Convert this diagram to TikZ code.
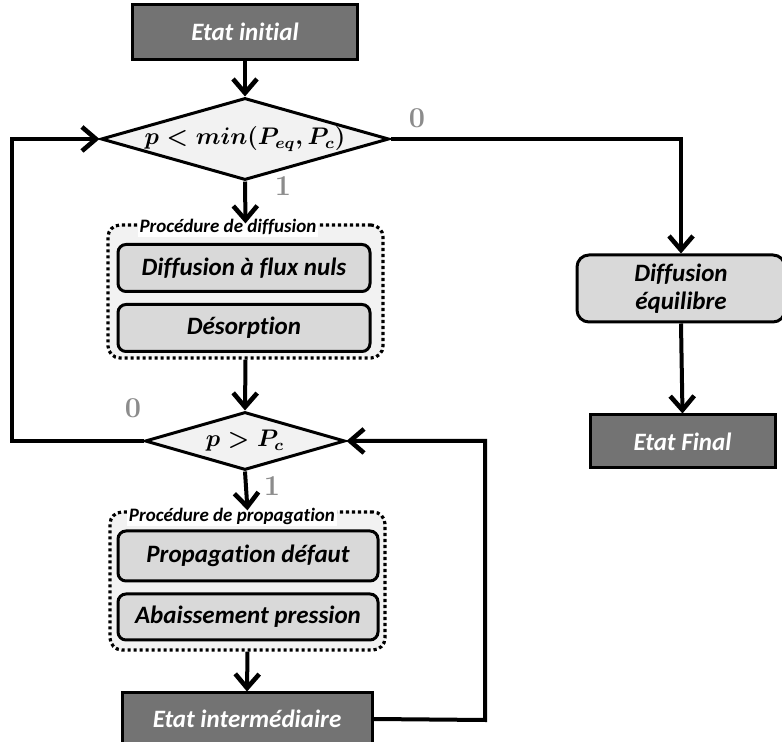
\documentclass[tikz,border=0pt]{standalone}
\usepackage[no-math]{fontspec}
\setmainfont{Carlito}[Ligatures=NoCommon]
\usetikzlibrary{shapes.geometric,arrows.meta}
\begin{document}
\begin{tikzpicture}[x=0.5pt, y=-0.5pt,
    fleche/.style={line width=2pt, -{Straight Barb[length=7pt,width=12pt,line width=2.3pt]}},
    etat/.style={draw, line width=1.5pt, fill=black!55, text=white, font=\fontsize{12.5}{14}\bfseries\itshape, inner sep=0pt},
    test/.style={draw, diamond, line width=1.5pt, fill=black!5, inner sep=0pt, font=\fontsize{12}{14}\boldmath},
    tache/.style={draw, line width=1.5pt, rounded corners=4pt, fill=black!15, font=\fontsize{12.5}{14}\bfseries\itshape, inner sep=0pt},
    groupe/.style={draw, line width=1.6pt, dash pattern=on 1.6pt off 1.4pt, rounded corners=6pt, fill=black!5},
    titre/.style={fill=white, inner sep=1pt, font=\fontsize{9.5}{10}\bfseries\itshape},
    choix/.style={text=black!45, font=\fontsize{14}{14}}]
    \useasboundingbox (0,0) rectangle (782,742);
    % Etats et tests
    \node[etat, minimum width=112.5pt, minimum height=27.5pt] (init) at (245,32) {Etat initial};
    \node[test, aspect=3.5, minimum width=144pt, minimum height=41pt] (test1) at (245,139) {$p<min(P_{eq},P_c)$};
    \node[test, aspect=3.45, minimum width=100pt, minimum height=29pt] (test2) at (245,441) {$p>P_c$};
    % Procedure de diffusion
    \node[groupe, minimum width=137.5pt, minimum height=66.5pt] (grpdiff) at (245.5,291.5) {};
    \node[titre] (titrediff) at (228,227) {Procédure de diffusion};
    \node[tache, minimum width=126pt, minimum height=23.5pt] (flux) at (244,268) {Diffusion à flux nuls};
    \node[tache, minimum width=126pt, minimum height=23.5pt] (desorp) at (244,328) {Désorption};
    % Procedure de propagation
    \node[groupe, minimum width=137.5pt, minimum height=69pt] (grpprop) at (247.5,581) {};
    \node[titre] (titreprop) at (232,516) {Procédure de propagation};
    \node[tache, minimum width=130pt, minimum height=25pt] (defaut) at (248,556) {Propagation défaut};
    \node[tache, minimum width=130pt, minimum height=23pt] (pression) at (248,617) {Abaissement pression};
    \node[etat, minimum width=125pt, minimum height=26pt] (inter) at (247,719) {Etat intermédiaire};
    % Branche de droite
    \node[tache, align=center, rounded corners=6pt, minimum width=104pt, minimum height=33.5pt] (equil) at (681,288.5) {Diffusion\\équilibre};
    \node[etat, minimum width=92.5pt, minimum height=26.5pt] (final) at (682.5,441.5) {Etat Final};
    \coordinate (gauche) at (12,441);
    \coordinate (droite) at (485,720);
    % Connexions
    \draw[fleche] (init) -- (test1);
    \draw[fleche] (test1.south) -- (grpdiff.north);
    \draw[fleche] (grpdiff.south) -- (test2.north);
    \draw[fleche] (test2.south) -- (grpprop.north);
    \draw[fleche] (grpprop.south) -- (inter.north);
    \draw[fleche] (test1.east) -| (equil.north);
    \draw[fleche] (equil.south) -- (final.north);
    \draw[fleche] (test2.west) -- (gauche) |- (test1.west);
    \draw[fleche] (inter.east) -- (droite) |- (test2.east);
    % Choix
    \node[choix] (oui1) at (283,186) {$\mathbf{1}$};
    \node[choix] (non1) at (417,118) {$\mathbf{0}$};
    \node[choix] (oui2) at (272,486) {$\mathbf{1}$};
    \node[choix] (non2) at (133,408) {$\mathbf{0}$};
\end{tikzpicture}
\end{document}
